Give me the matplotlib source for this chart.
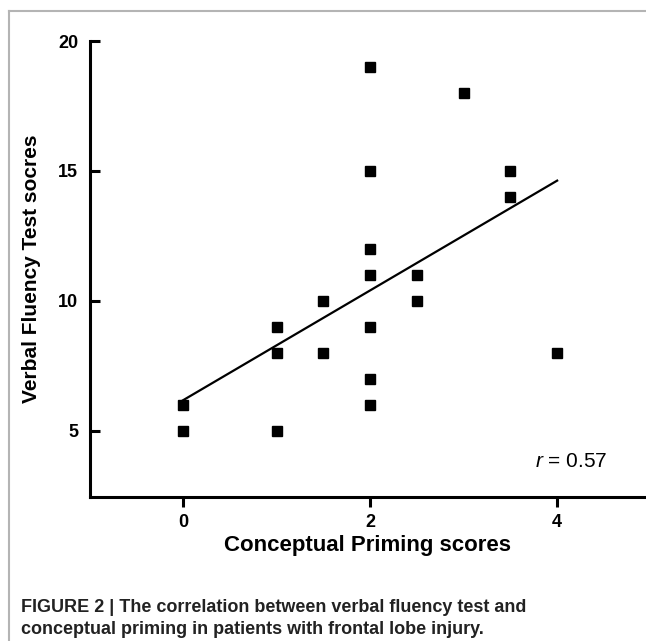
import numpy as np
import matplotlib.pyplot as plt
from matplotlib.lines import Line2D

plt.rcParams['font.family'] = ['Liberation Sans', 'DejaVu Sans']
plt.rcParams['mathtext.fontset'] = 'custom'
plt.rcParams['mathtext.it'] = 'Liberation Sans:italic'
plt.rcParams['mathtext.rm'] = 'Liberation Sans'

# priming scores (x) and verbal fluency scores (y)
priming = [0, 0, 1, 1, 1, 1.5, 1.5, 2, 2, 2, 2, 2, 2, 2, 2.5, 2.5, 3, 3.5, 3.5, 4]
fluency = [6, 5, 9, 8, 5, 10, 8, 19, 15, 12, 11, 9, 7, 6, 11, 10, 18, 15, 14, 8]
x_ticks = [0, 2, 4]
y_ticks = [5, 10, 15, 20]
r_text = '0.57'

fig = plt.figure(figsize=(6.46, 6.41), dpi=100)
ax = fig.add_axes([90 / 646, 1 - 497 / 641, 1 - 90 / 646, (497 - 41) / 641])

ax.plot(priming, fluency, 's', color='black', markersize=6.5, clip_on=False)

# least squares fit line
slope, intercept = np.polyfit(priming, fluency, 1)
xl = np.array([min(priming), max(priming)])
ax.plot(xl, slope * xl + intercept, color='black', linewidth=1.6)

ax.set_xlim(-0.995, 4.95)
ax.set_ylim(2.46, 20)
ax.set_xticks(x_ticks)
ax.set_yticks(y_ticks)
ax.spines['top'].set_visible(False)
ax.spines['right'].set_visible(False)
ax.spines['left'].set_linewidth(2.2)
ax.spines['bottom'].set_linewidth(2.2)
ax.tick_params(axis='x', direction='out', length=7, width=2.2, labelsize=13, pad=5)
ax.tick_params(axis='y', direction='in', length=7, width=2.2, labelsize=13, pad=8.6)
for lab in ax.get_xticklabels() + ax.get_yticklabels():
    lab.set_fontweight('bold')

ax.set_xlabel('Conceptual Priming scores', fontsize=16, fontweight='bold', labelpad=3)
ax.set_ylabel('Verbal Fluency Test socres', fontsize=15, fontweight='bold', labelpad=12)

ax.text(3.765, 3.83, r'$r$ = ' + r_text, fontsize=15, va='center')

# frame around the figure panel
fig.add_artist(Line2D([8.5 / 646, 8.5 / 646], [0, 1 - 11 / 641], color='#b4b4b4', linewidth=1.5))
fig.add_artist(Line2D([8.5 / 646, 1], [1 - 11 / 641, 1 - 11 / 641], color='#b4b4b4', linewidth=1.5))

fig.text(21 / 646, 1 - 608 / 641, 'FIGURE 2 | The correlation between verbal fluency test and',
         fontsize=13, fontweight='bold', color='#222222', va='center')
fig.text(21 / 646, 1 - 630 / 641, 'conceptual priming in patients with frontal lobe injury.',
         fontsize=13, fontweight='bold', color='#222222', va='center')

fig.savefig('out.png', dpi=100)
